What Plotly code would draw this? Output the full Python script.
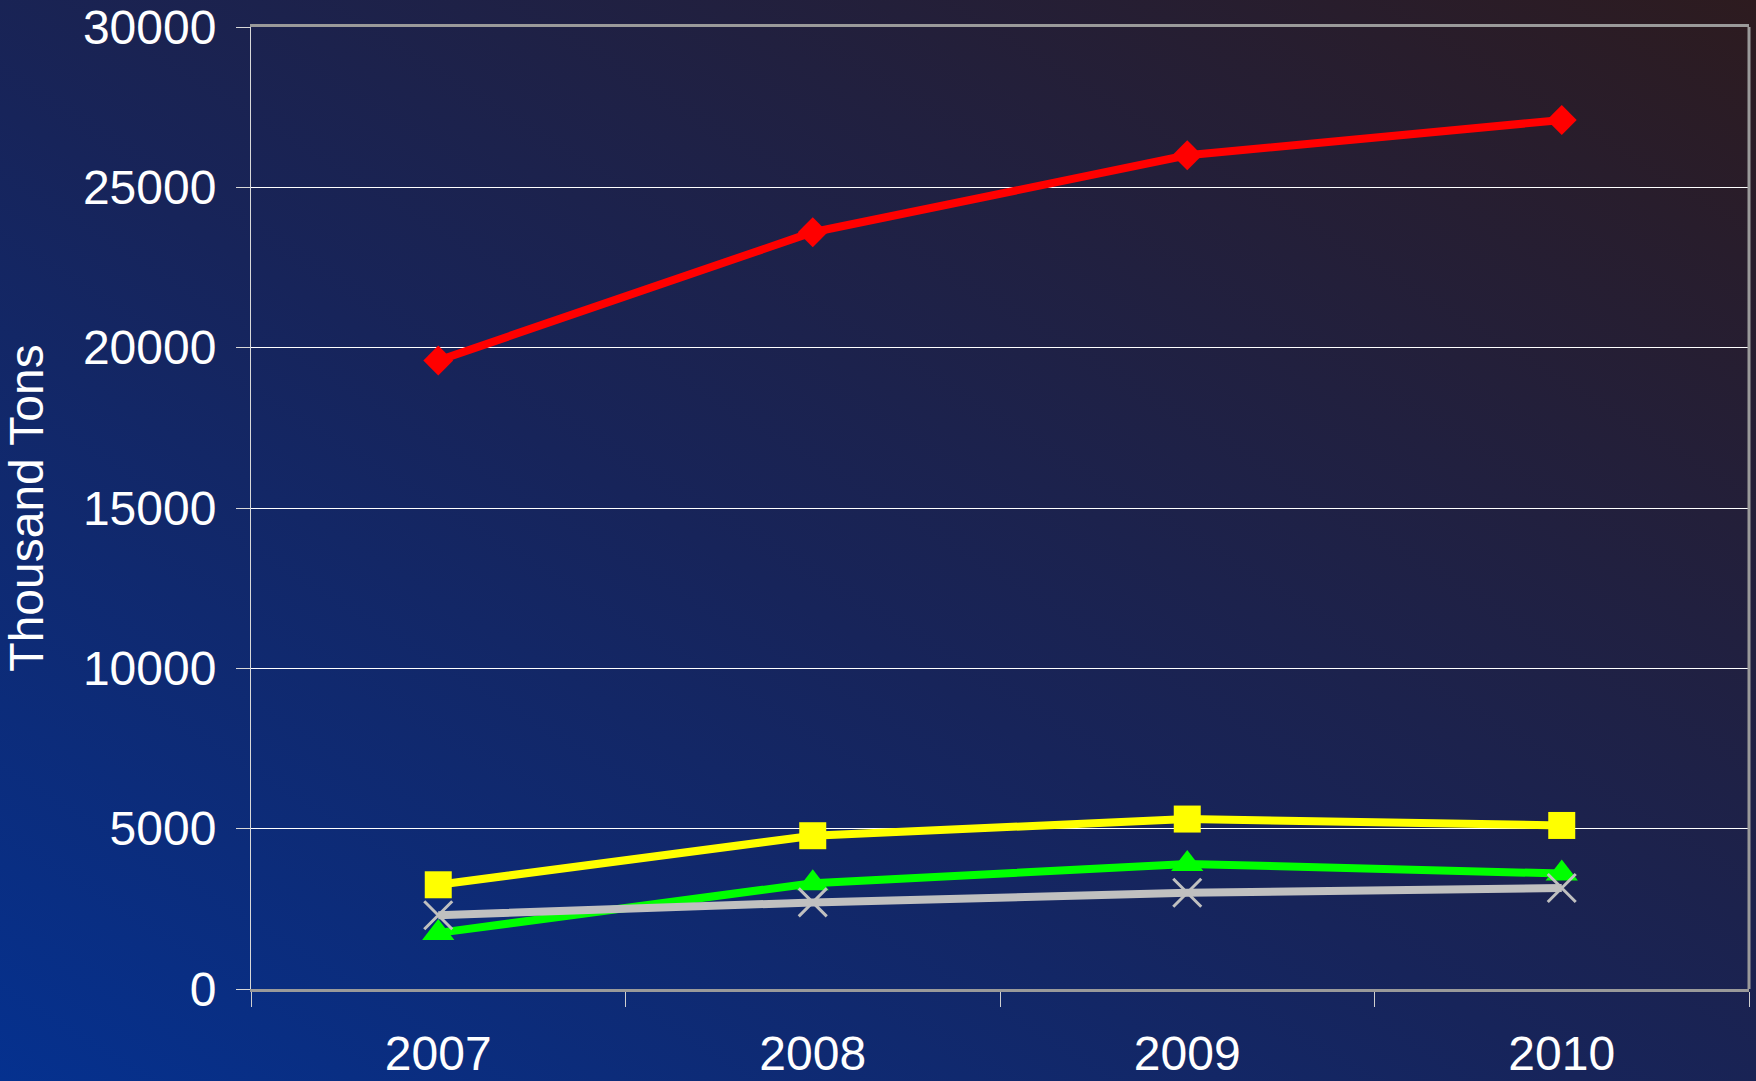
import base64
import plotly.graph_objects as go

# Annual volumes, thousand tons
years = ["2007", "2008", "2009", "2010"]
series_red = [19600, 23600, 26000, 27100]
series_yellow = [3250, 4780, 5300, 5100]
series_green = [1750, 3300, 3900, 3600]
series_gray = [2300, 2700, 3000, 3150]
y_ticks = [0, 5000, 10000, 15000, 20000, 25000, 30000]

W, H = 1756, 1081
M_L, M_R, M_T, M_B = 251, 7, 27, 92
PW, PH = W - M_L - M_R, H - M_T - M_B

# Diagonal blue-to-dark background, drawn as an SVG gradient image
svg = (
    '<svg xmlns="http://www.w3.org/2000/svg" width="1756" height="1081" '
    'preserveAspectRatio="none" viewBox="0 0 1756 1081">'
    '<defs><linearGradient id="g" x1="0" y1="1" x2="1" y2="0">'
    '<stop offset="0" stop-color="#05318f"/>'
    '<stop offset="0.45" stop-color="#17245a"/>'
    '<stop offset="1" stop-color="#2d1b1f"/>'
    '</linearGradient></defs>'
    '<rect width="1756" height="1081" fill="url(#g)"/></svg>'
)
bg_src = "data:image/svg+xml;base64," + base64.b64encode(svg.encode()).decode()

fig = go.Figure()

styles = [
    (series_red, "#ff0000", dict(symbol="diamond", size=23, color="#ff0000")),
    (series_yellow, "#ffff00", dict(symbol="square", size=27, color="#ffff00")),
    (series_green, "#00ff00", dict(symbol="triangle-up", size=28, color="#00ff00")),
    (series_gray, "#c0c0c0", dict(symbol="x-thin", size=28, color="#c0c0c0",
                                  line=dict(color="#c0c0c0", width=3))),
]
for vals, col, mk in styles:
    fig.add_trace(go.Scatter(
        x=years, y=vals, mode="lines+markers",
        line=dict(color=col, width=8),
        marker=mk, showlegend=False,
    ))

font = "Liberation Sans, Arial, sans-serif"

fig.update_layout(
    width=W, height=H,
    margin=dict(l=M_L, r=M_R, t=M_T, b=M_B, autoexpand=False),
    paper_bgcolor="#1b2352",
    plot_bgcolor="rgba(0,0,0,0)",
    font=dict(family=font, color="white", size=48),
    images=[dict(
        source=bg_src, xref="paper", yref="paper",
        x=-M_L / PW, y=1 + M_T / PH, sizex=W / PW, sizey=H / PH,
        xanchor="left", yanchor="top", sizing="stretch", layer="below",
    )],
    xaxis=dict(
        type="category", range=[-0.5, 3.5], automargin=False,
        showgrid=False, zeroline=False,
        showline=True, linecolor="#9a9a9a", linewidth=3, mirror=True,
        ticks="outside", tickson="boundaries", ticklen=15, tickcolor="#d0d0d0",
        tickwidth=1, ticklabelstandoff=20,
        tickfont=dict(size=48, color="white", family=font),
    ),
    yaxis=dict(
        range=[0, 30000], tickvals=y_ticks, automargin=False,
        ticktext=[str(v) for v in y_ticks],
        showgrid=True, gridcolor="#ffffff", gridwidth=1,
        zeroline=False,
        showline=True, linecolor="#d8d8d8", linewidth=1,
        ticks="outside", ticklen=14, tickcolor="#d8d8d8", tickwidth=1,
        ticklabelstandoff=10,
        tickfont=dict(size=48, color="white", family=font),
        title=dict(text="Thousand Tons", standoff=26,
                   font=dict(size=48, color="white", family=font)),
    ),
    shapes=[
        dict(type="line", xref="paper", yref="paper", x0=1, x1=1, y0=0, y1=1,
             line=dict(color="#9a9a9a", width=3)),
    ],
)

fig.write_html("out.html")
